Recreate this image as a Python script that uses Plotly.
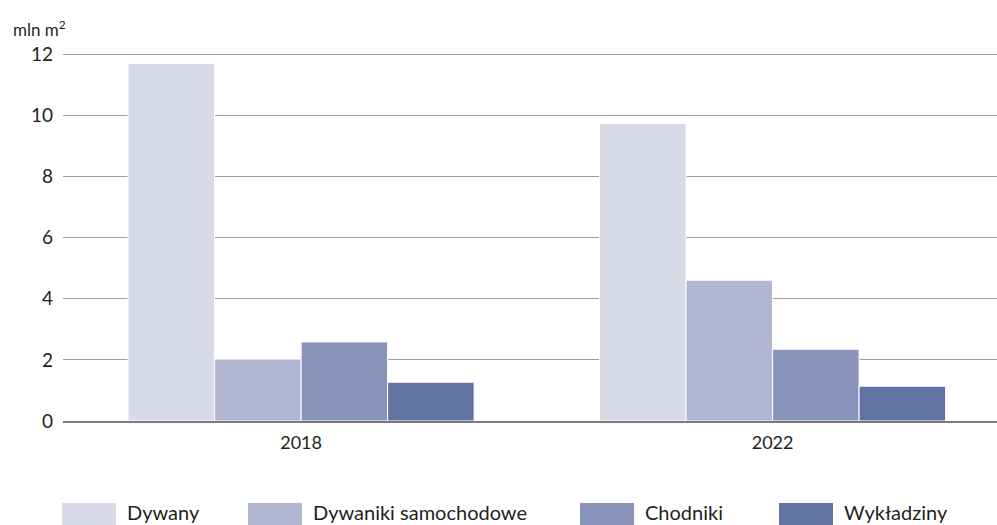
import plotly.graph_objects as go

years = ["2018", "2022"]
series_names = ["Dywany", "Dywaniki samochodowe", "Chodniki", "Wykładziny"]
dywany = [11.71, 9.74]
dywaniki_samochodowe = [2.03, 4.61]
chodniki = [2.59, 2.35]
wykladziny = [1.27, 1.14]
y_ticks = [0, 2, 4, 6, 8, 10, 12]

values = [dywany, dywaniki_samochodowe, chodniki, wykladziny]
colors = ["#d8dae7", "#b1b6d3", "#8994bd", "#6273a3"]

W, H = 997, 525
L, R, T, B = 63, 0, 52.5, 104
pw = W - L - R
ph = H - T - B

def px_x(x):
    return (x - L) / pw

def px_y(y):
    return (H - B - y) / ph

fig = go.Figure()
for name, vals, col in zip(series_names, values, colors):
    fig.add_trace(go.Bar(x=years, y=vals, name=name,
                         marker=dict(color=col, line=dict(color="white", width=1))))

font_family = "Lato, 'Open Sans', sans-serif"
text_col = "#231f20"
fig.update_layout(
    width=W, height=H,
    margin=dict(l=L, r=R, t=T, b=B, pad=0),
    paper_bgcolor="white", plot_bgcolor="white",
    barmode="group", bargap=0.266, bargroupgap=0,
    showlegend=False,
    font=dict(family=font_family, size=18, color=text_col),
    xaxis=dict(type="category", range=[-0.505, 1.476], showgrid=False,
               showline=True, linecolor="#7a7a7a", linewidth=1.5,
               ticks="", ticklabelstandoff=5,
               tickfont=dict(size=18, color=text_col)),
    yaxis=dict(range=[0, 12.05], tickvals=y_ticks, showgrid=True,
               gridcolor="#9e9e9e", gridwidth=1, zeroline=False,
               showline=False, ticks="", ticklabelstandoff=9,
               tickfont=dict(size=19, color=text_col)),
)

fig.add_annotation(text="mln m<sup>2</sup>", xref="paper", yref="paper",
                   x=px_x(11), y=px_y(28), xanchor="left", yanchor="middle",
                   showarrow=False, font=dict(size=17, color=text_col))

# custom legend built from the series list
legend_x = [62, 248, 580, 779]
for name, col, lx in zip(series_names, colors, legend_x):
    fig.add_shape(type="rect", xref="paper", yref="paper",
                  x0=px_x(lx), x1=px_x(lx + 54), y0=px_y(503), y1=px_y(527),
                  fillcolor=col, line=dict(width=0), layer="above")
    fig.add_annotation(text=name, xref="paper", yref="paper",
                       x=px_x(lx + 63), y=px_y(512), xanchor="left", yanchor="middle",
                       showarrow=False, font=dict(size=20, color=text_col))

fig.write_html("out.html", config={"displayModeBar": False},
               post_script="document.body.style.margin='0px';")
